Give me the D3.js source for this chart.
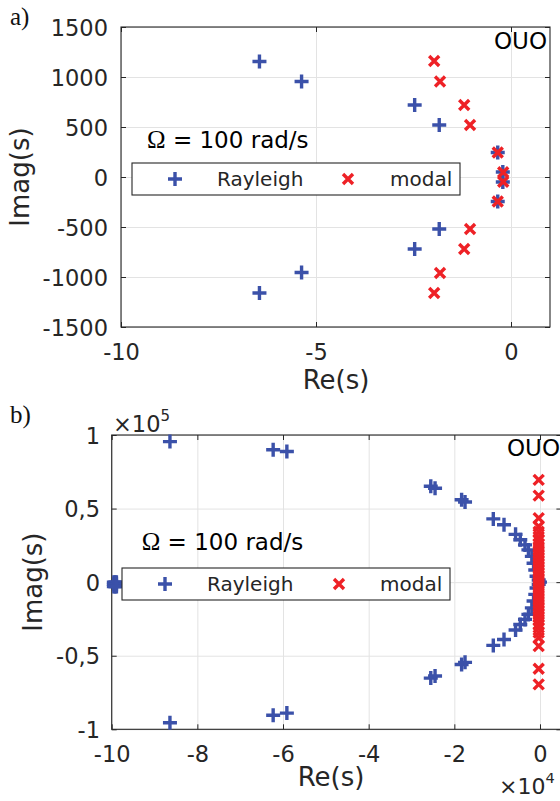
<!DOCTYPE html>
<html>
<head>
<meta charset="utf-8">
<script src="https://cdn.jsdelivr.net/npm/d3@7"></script>
<style>
  body { margin: 0; background: #fff; }
  svg { display: block; }
  text { font-family: "DejaVu Sans", sans-serif; }
</style>
</head>
<body>
<svg id="fig" width="560" height="801"></svg>
<script>
// ---- Panel a: poles at low frequency range ----
const aXTicks = [-10, -5, 0];
const aYTicks = [-1500, -1000, -500, 0, 500, 1000, 1500];
const aRayleighRe = [-6.45, -5.37, -2.47, -1.84, -0.34, -0.21, -0.21, -0.34, -1.84, -2.47, -5.37, -6.45];
const aRayleighIm = [1155, 955, 720, 520, 245, 50, -50, -245, -520, -720, -955, -1160];
const aModalRe = [-1.97, -1.82, -1.20, -1.05, -0.34, -0.20, -0.20, -0.34, -1.05, -1.20, -1.82, -1.97];
const aModalIm = [1160, 955, 720, 520, 245, 48, -48, -245, -520, -720, -960, -1160];

// ---- Panel b: full pole set ----
const bXTicks = [-100000, -80000, -60000, -40000, -20000, 0];
const bXTickLabels = ["-10", "-8", "-6", "-4", "-2", "0"];
const bYTicks = [-100000, -50000, 0, 50000, 100000];
const bYTickLabels = ["-1", "-0,5", "0", "0,5", "1"];
const bRayleighRe = [
  -99500, -99200, -98900, -99500, -99200, -98900, -99500, -99200, -98900,
  -86400, -62300, -59100, -25500, -24500, -18300, -17500, -10900, -8400, -5700, -4600,
  -3500, -2700, -1900, -1500, -1100, -800, -300, 0,
  -86400, -62300, -59100, -25500, -24500, -18300, -17500, -10900, -8400, -5700, -4600,
  -3500, -2700, -1900, -1500, -1100, -800, -300
];
const bRayleighIm = [
  0, 0, 0, -1500, -1500, -1500, -3000, -3000, -3000,
  95500, 90000, 88800, 65200, 63800, 56000, 54500, 43000, 39000, 32500, 28800,
  25300, 21900, 17500, 12800, 8300, 4000, 1500, 0,
  -95500, -90500, -89000, -65200, -63800, -56000, -54500, -43000, -39000, -32500, -28800,
  -25300, -21900, -17500, -12800, -8300, -4000, -1500
];
const bModalRe = [
  -300, -300, -300, -300, -300, -300, -300, -300, -300, -300, -300, -300, -300, -300,
  -300, -300, -300, -300, -300, -300, -300,
  -300, -300, -300, -300, -300, -300, -300, -300, -300, -300, -300, -300, -300, -300,
  -300, -300, -300, -300, -300, -300
];
const bModalIm = [
  69500, 58800, 43500, 37800, 34300, 30900, 28500, 26200, 24000, 22000, 20000, 18000, 16000, 14000,
  12000, 10000, 8000, 6000, 4000, 2000, 0,
  -2000, -4000, -6000, -8000, -10000, -12000, -14000, -16000, -18000, -20000, -22000, -24000, -26200,
  -28500, -30900, -34300, -37800, -43500, -58800, -69500
];

const legendNames = ["Rayleigh", "modal"];
const speedLabel = "= 100 rad/s";

const BLUE = "#3b51a9";
const RED = "#ee2126";
const AX = "#262626";
const GRID = "#e3e3e3";

const svg = d3.select("#fig");

function plusPath(s) { return `M${-s},0H${s}M0,${-s}V${s}`; }
function crossPath(s) { return `M${-s},${-s}L${s},${s}M${-s},${s}L${s},${-s}`; }

function drawMarkers(g, xs, ys, x, y, kind, color) {
  const d = kind === "plus" ? plusPath(7) : crossPath(5);
  g.selectAll(null).data(xs.map((v, i) => [v, ys[i]])).enter()
    .append("path")
    .attr("d", d)
    .attr("transform", p => `translate(${x(p[0])},${y(p[1])})`)
    .attr("fill", "none")
    .attr("stroke", color)
    .attr("stroke-width", 3.4);
}

function drawPanel(cfg) {
  const x = d3.scaleLinear().domain(cfg.xDomain).range([cfg.left, cfg.right]);
  const y = d3.scaleLinear().domain(cfg.yDomain).range([cfg.bottom, cfg.top]);
  const w = cfg.right - cfg.left, h = cfg.bottom - cfg.top;
  const g = svg.append("g");

  // grid
  g.append("g").attr("transform", `translate(0,${cfg.bottom})`)
    .call(d3.axisBottom(x).tickValues(cfg.xTicks).tickSize(-h).tickFormat(""))
    .call(s => s.select(".domain").remove())
    .selectAll("line").attr("stroke", GRID);
  g.append("g").attr("transform", `translate(${cfg.left},0)`)
    .call(d3.axisLeft(y).tickValues(cfg.yTicks).tickSize(-w).tickFormat(""))
    .call(s => s.select(".domain").remove())
    .selectAll("line").attr("stroke", GRID);

  // box
  g.append("rect").attr("x", cfg.left).attr("y", cfg.top).attr("width", w).attr("height", h)
    .attr("fill", "none").attr("stroke", AX).attr("stroke-width", 1.1);

  // inward ticks on all sides + labels
  const xb = g.append("g").attr("transform", `translate(0,${cfg.bottom})`)
    .call(d3.axisBottom(x).tickValues(cfg.xTicks).tickSizeInner(-5).tickSizeOuter(0)
      .tickFormat(cfg.xFormat));
  xb.select(".domain").remove();
  xb.selectAll("line").attr("stroke", AX);
  xb.selectAll("text").attr("y", cfg.xLabelOffset).attr("dy", null)
    .attr("fill", AX).style("font-size", "22.5px").style("font-family", "DejaVu Sans");

  const yl = g.append("g").attr("transform", `translate(${cfg.left},0)`)
    .call(d3.axisLeft(y).tickValues(cfg.yTicks).tickSizeInner(-5).tickSizeOuter(0)
      .tickPadding(cfg.yPad).tickFormat(cfg.yFormat));
  yl.select(".domain").remove();
  yl.selectAll("line").attr("stroke", AX);
  yl.selectAll("text").attr("x", -cfg.yPad).attr("dy", "0.36em")
    .attr("fill", AX).style("font-size", "22.5px").style("font-family", "DejaVu Sans");

  const xt = g.append("g").attr("transform", `translate(0,${cfg.top})`)
    .call(d3.axisTop(x).tickValues(cfg.xTicks).tickSizeInner(-5).tickSizeOuter(0).tickFormat(""));
  xt.select(".domain").remove();
  xt.selectAll("line").attr("stroke", AX);
  const yr = g.append("g").attr("transform", `translate(${cfg.right},0)`)
    .call(d3.axisRight(y).tickValues(cfg.yTicks).tickSizeInner(-5).tickSizeOuter(0).tickFormat(""));
  yr.select(".domain").remove();
  yr.selectAll("line").attr("stroke", AX);

  // data
  drawMarkers(g, cfg.rayRe, cfg.rayIm, x, y, "plus", BLUE);
  drawMarkers(g, cfg.modRe, cfg.modIm, x, y, "cross", RED);

  // axis titles
  g.append("text").attr("x", cfg.reX).attr("y", cfg.reY).attr("text-anchor", "middle")
    .attr("fill", AX).style("font-size", "26px").text("Re(s)");
  g.append("text").attr("transform", `translate(${cfg.imX},${(cfg.top + cfg.bottom) / 2}) rotate(-90)`)
    .attr("text-anchor", "middle").attr("fill", AX).style("font-size", "26px").text("Imag(s)");

  // panel letter
  g.append("text").attr("x", 10).attr("y", cfg.letterY)
    .style("font-family", "Liberation Serif, serif").style("font-size", "25px")
    .attr("fill", "#111").text(cfg.letter);

  // OUO tag
  g.append("text").attr("x", cfg.tagX).attr("y", cfg.tagY)
    .style("font-size", "23px").attr("fill", "#000").text("OUO");

  // rotation speed annotation
  const t = g.append("text").attr("x", cfg.omegaX).attr("y", cfg.omegaY)
    .style("font-size", "23px").attr("fill", "#000");
  t.append("tspan").style("font-family", "Liberation Serif, serif").style("font-size", "25px").text("Ω");
  t.append("tspan").text(" " + speedLabel);

  // legend
  const L = cfg.legend;
  g.append("rect").attr("x", L.x0).attr("y", L.y0).attr("width", L.x1 - L.x0).attr("height", L.y1 - L.y0)
    .attr("fill", "#fff").attr("stroke", AX).attr("stroke-width", 1.1);
  const ly = (L.y0 + L.y1) / 2;
  g.append("path").attr("d", plusPath(7)).attr("transform", `translate(${L.m1},${ly})`)
    .attr("stroke", BLUE).attr("stroke-width", 3.4).attr("fill", "none");
  g.append("path").attr("d", crossPath(5)).attr("transform", `translate(${L.m2},${ly})`)
    .attr("stroke", RED).attr("stroke-width", 3.4).attr("fill", "none");
  g.append("text").attr("x", L.t1).attr("y", ly + 7).style("font-size", "20px").attr("fill", AX).text(legendNames[0]);
  g.append("text").attr("x", L.t2).attr("y", ly + 7).style("font-size", "20px").attr("fill", AX).text(legendNames[1]);

  return { x, y, g };
}

// Panel a
drawPanel({
  left: 121, right: 550, top: 27, bottom: 327,
  xDomain: [-10, 1], yDomain: [-1500, 1500],
  xTicks: aXTicks, yTicks: aYTicks,
  xFormat: d => String(d), yFormat: d => String(d),
  xLabelOffset: 33, yPad: 13,
  rayRe: aRayleighRe, rayIm: aRayleighIm, modRe: aModalRe, modIm: aModalIm,
  reX: 336, reY: 389, imX: 29,
  letter: "a)", letterY: 25,
  tagX: 494, tagY: 49,
  omegaX: 147, omegaY: 148,
  legend: { x0: 132, x1: 460, y0: 163, y1: 195, m1: 175, t1: 217, m2: 348, t2: 390 }
});

// Panel b
const pb = drawPanel({
  left: 111.7, right: 561.4, top: 435, bottom: 729.3,
  xDomain: [-100000, 5000], yDomain: [-100000, 100000],
  xTicks: bXTicks, yTicks: bYTicks,
  xFormat: (d, i) => bXTickLabels[i], yFormat: (d, i) => bYTickLabels[i],
  xLabelOffset: 32.5, yPad: 11.7,
  rayRe: bRayleighRe, rayIm: bRayleighIm, modRe: bModalRe, modIm: bModalIm,
  reX: 331, reY: 786, imX: 42,
  letter: "b)", letterY: 423,
  tagX: 507, tagY: 456,
  omegaX: 141.7, omegaY: 550,
  legend: { x0: 122, x1: 450, y0: 568, y1: 600, m1: 165, t1: 207, m2: 339, t2: 380 }
});

// exponent multipliers for panel b
const e5 = pb.g.append("text").attr("x", 113).attr("y", 431.5).style("font-size", "22.5px").attr("fill", AX);
e5.append("tspan").text("×10");
e5.append("tspan").attr("dy", -11).style("font-size", "15px").text("5");
const e4 = pb.g.append("text").attr("x", 499).attr("y", 794).style("font-size", "22px").attr("fill", AX);
e4.append("tspan").text("×10");
e4.append("tspan").attr("dy", -11).style("font-size", "14.5px").text("4");
</script>
</body>
</html>
